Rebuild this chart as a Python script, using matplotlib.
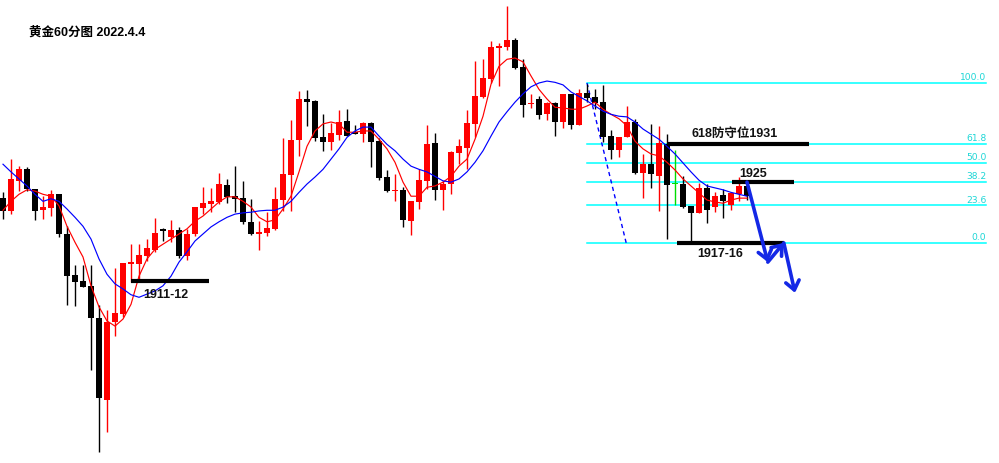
import numpy as np
import matplotlib.pyplot as plt

plt.rcParams['font.family'] = ['Liberation Sans', 'Noto Sans CJK SC', 'DejaVu Sans']

# hourly gold candles (price)
opens = [1922.5, 1920.5, 1925.2, 1927.0, 1923.9, 1920.6, 1920.9, 1923.1, 1916.9, 1910.5,
         1909.5, 1908.8, 1903.8, 1890.9, 1903.1, 1904.4, 1912.2, 1912.2, 1913.4, 1914.4,
         1917.6, 1916.4, 1917.5, 1913.4, 1916.9, 1920.9, 1921.6, 1921.9, 1924.5, 1922.8,
         1922.5, 1918.8, 1916.9, 1917.0, 1917.7, 1922.2, 1926.1, 1931.6, 1938.0, 1937.7,
         1932.0, 1931.3, 1932.4, 1934.5, 1932.8, 1932.5, 1934.2, 1931.4, 1925.8, 1923.6,
         1923.8, 1918.9, 1921.9, 1925.2, 1931.1, 1923.8, 1924.7, 1929.5, 1930.3, 1934.1,
         1938.3, 1941.1, 1945.9, 1946.1, 1947.2, 1943.0, 1937.2, 1938.0, 1935.6, 1937.4,
         1934.4, 1938.8, 1933.9, 1938.9, 1938.3, 1937.5, 1932.2, 1930.0, 1932.0, 1934.4,
         1926.4, 1927.8, 1925.9, 1930.9, 1924.7, 1924.7, 1921.3, 1920.2, 1924.1, 1921.1,
         1923.0, 1921.4, 1923.1, 1924.4]
highs = [1923.4, 1928.6, 1927.5, 1927.4, 1923.9, 1922.8, 1923.8, 1923.1, 1918.1, 1912.0,
         1912.0, 1912.0, 1905.8, 1905.0, 1911.6, 1912.4, 1915.3, 1915.3, 1916.1, 1919.4,
         1917.8, 1919.1, 1918.0, 1917.7, 1921.1, 1924.2, 1924.1, 1926.4, 1925.5, 1927.5,
         1925.2, 1922.4, 1918.9, 1920.3, 1924.2, 1931.9, 1934.7, 1939.2, 1939.4, 1937.8,
         1935.6, 1934.2, 1936.3, 1936.4, 1933.9, 1934.4, 1934.4, 1931.9, 1926.9, 1926.3,
         1924.2, 1922.0, 1927.0, 1933.9, 1932.7, 1925.2, 1929.9, 1931.7, 1936.3, 1943.9,
         1944.2, 1947.0, 1946.7, 1952.5, 1947.5, 1944.2, 1938.8, 1938.4, 1937.5, 1937.5,
         1938.8, 1938.8, 1939.5, 1940.3, 1939.5, 1940.2, 1933.1, 1932.0, 1936.9, 1934.9,
         1929.4, 1934.1, 1933.8, 1932.5, 1930.0, 1925.9, 1921.3, 1924.9, 1924.7, 1923.4,
         1923.9, 1923.4, 1925.8, 1924.9]
lows = [1919.2, 1920.0, 1923.6, 1923.6, 1919.1, 1919.2, 1919.7, 1916.4, 1905.8, 1905.6,
        1908.6, 1895.6, 1882.8, 1885.9, 1900.9, 1903.9, 1909.4, 1909.4, 1912.7, 1914.1,
        1915.8, 1915.6, 1913.1, 1912.8, 1916.6, 1920.0, 1920.3, 1921.6, 1921.7, 1920.3,
        1918.4, 1916.7, 1914.4, 1916.6, 1917.5, 1920.5, 1920.5, 1929.1, 1933.8, 1931.4,
        1929.9, 1930.0, 1931.6, 1932.2, 1932.5, 1931.3, 1927.4, 1925.3, 1923.4, 1922.0,
        1918.0, 1916.7, 1920.8, 1923.9, 1922.2, 1920.6, 1923.1, 1927.8, 1927.0, 1932.0,
        1938.1, 1940.5, 1940.0, 1945.6, 1942.7, 1935.2, 1936.6, 1934.9, 1934.7, 1932.2,
        1933.4, 1933.3, 1933.9, 1937.5, 1936.4, 1931.3, 1928.6, 1928.9, 1932.0, 1926.3,
        1922.5, 1924.1, 1920.5, 1916.1, 1921.4, 1920.9, 1915.6, 1920.2, 1918.6, 1920.3,
        1919.4, 1920.6, 1922.0, 1922.2]
closes = [1920.5, 1925.5, 1927.0, 1923.9, 1920.5, 1921.1, 1923.1, 1916.9, 1910.3, 1909.4,
          1908.6, 1903.8, 1891.3, 1903.1, 1904.5, 1912.4, 1912.5, 1913.6, 1914.7, 1917.0,
          1917.4, 1917.5, 1913.4, 1916.9, 1921.1, 1921.7, 1922.0, 1924.7, 1922.7, 1922.4,
          1918.8, 1916.9, 1917.2, 1917.8, 1922.4, 1926.3, 1931.6, 1938.0, 1937.5, 1931.9,
          1931.3, 1932.7, 1934.4, 1932.2, 1932.5, 1934.2, 1931.3, 1925.6, 1923.6, 1923.8,
          1919.1, 1922.0, 1925.3, 1930.9, 1923.8, 1924.7, 1929.7, 1930.6, 1934.2, 1938.4,
          1941.3, 1946.1, 1946.3, 1947.2, 1942.8, 1937.0, 1937.4, 1935.5, 1937.4, 1934.4,
          1938.8, 1933.9, 1938.9, 1938.1, 1937.4, 1932.0, 1930.0, 1932.0, 1934.4, 1926.4,
          1927.8, 1926.3, 1931.1, 1924.5, 1924.7, 1921.1, 1920.2, 1924.1, 1920.6, 1922.8,
          1922.0, 1923.3, 1924.4, 1922.8]

# moving averages as drawn on the chart
ma_fast = [1920.6, 1922.0, 1923.1, 1923.8, 1923.6, 1923.1, 1922.8, 1921.3, 1918.1, 1915.6,
           1913.3, 1908.8, 1905.5, 1903.3, 1902.5, 1903.6, 1905.9, 1910.3, 1913.0, 1914.5,
           1915.3, 1916.1, 1916.9, 1917.7, 1918.9, 1919.7, 1920.8, 1921.9, 1922.7, 1922.7,
           1922.0, 1921.1, 1919.5, 1918.8, 1919.1, 1920.8, 1922.8, 1926.6, 1930.6, 1933.0,
           1934.1, 1934.4, 1934.1, 1932.8, 1932.8, 1933.0, 1933.0, 1931.7, 1930.2, 1928.1,
           1925.0, 1922.8, 1922.8, 1924.2, 1924.4, 1925.0, 1925.9, 1927.5, 1928.6, 1931.7,
           1935.3, 1940.3, 1943.1, 1944.2, 1944.4, 1943.8, 1941.6, 1939.5, 1938.0, 1936.7,
           1936.6, 1936.4, 1936.4, 1936.9, 1937.5, 1936.4, 1935.6, 1934.9, 1933.8, 1931.4,
           1930.2, 1929.4, 1929.1, 1928.1, 1926.9, 1925.5, 1924.4, 1923.3, 1922.2, 1921.9,
           1921.7, 1922.2, 1922.5, 1922.5]
ma_slow = [1927.8, 1926.6, 1925.5, 1924.4, 1923.1, 1922.0, 1922.4, 1922.0, 1920.8, 1919.5,
           1918.1, 1916.1, 1913.0, 1910.6, 1909.1, 1908.3, 1907.4, 1907.0, 1907.5, 1908.0,
           1908.8, 1910.3, 1912.5, 1914.1, 1915.8, 1916.9, 1918.0, 1918.8, 1919.5, 1920.0,
           1920.2, 1920.3, 1920.5, 1920.6, 1920.6, 1921.1, 1922.0, 1923.4, 1924.7, 1925.8,
           1927.0, 1928.6, 1930.2, 1932.0, 1933.0, 1933.6, 1933.6, 1932.2, 1930.9, 1929.9,
           1928.6, 1927.5, 1927.0, 1926.6, 1925.9, 1925.2, 1925.0, 1925.5, 1926.6, 1928.1,
           1929.9, 1932.2, 1934.4, 1936.0, 1937.5, 1938.8, 1939.9, 1940.5, 1940.8, 1940.6,
           1940.2, 1939.1, 1938.4, 1937.7, 1936.9, 1936.1, 1935.6, 1935.3, 1935.2, 1934.4,
           1933.3, 1932.5, 1931.7, 1930.6, 1929.4, 1928.0, 1926.6, 1925.3, 1924.4, 1924.1,
           1923.8, 1923.4, 1923.1, 1922.8]

fib_labels = ['0.0', '23.6', '38.2', '50.0', '61.8', '100.0']
fib_ratios = [0.0, 0.236, 0.382, 0.5, 0.618, 1.0]
fib_low, fib_high = 1915.5, 1940.5

title = '黄金60分图 2022.4.4'

fig = plt.figure(figsize=(9.99, 4.64), dpi=100)
ax = fig.add_axes([0, 0, 1, 1])
ax.set_xlim(-0.375, 124.5)
ax.set_ylim(1881.1, 1953.625)
ax.axis('off')

x = np.arange(len(opens))
o = np.array(opens); c = np.array(closes)
cols = np.where(c > o, '#ff0000', np.where(c < o, '#000000', '#00dd00'))
ax.vlines(x, lows, highs, colors=cols, lw=1.0, zorder=3)
body = np.maximum(np.abs(c - o), 0.2)
ax.bar(x, body, bottom=np.minimum(o, c), width=0.64, color=cols, zorder=3, linewidth=0)

ax.plot(x, ma_fast, color='#ff0000', lw=0.85, zorder=4)
ax.plot(x, ma_slow, color='#0000ff', lw=0.85, zorder=4)

# fibonacci retracement
fib_x0, fib_x1 = 73, 122.9
fib_prices = [fib_low + r * (fib_high - fib_low) for r in fib_ratios]
for lab, p in zip(fib_labels, fib_prices):
    ax.plot([fib_x0, fib_x1], [p, p], color='#00ffff', lw=1.1, zorder=2)
    ax.text(fib_x1, p + 0.25, lab, ha='right', va='bottom', fontsize=6.6,
            color='#1cd6d6', family='DejaVu Sans', zorder=5)
ax.plot([73, 77.9], [fib_high, fib_low], color='#0000ff', lw=1.0,
        dashes=(3, 2.5), zorder=2)

# support / resistance marks
marks = [(16.0, 25.75, 1909.5, '1911-12', 20.4, 1907.5),
         (83.0, 100.75, fib_prices[4], '618防守位1931', 91.5, 1932.7),
         (91.1, 98.9, fib_prices[2], '1925', 93.75, 1926.4),
         (84.25, 97.6, fib_low, '1917-16', 89.6, 1913.9)]
for x0, x1, p, lab, tx, ty in marks:
    ax.plot([x0, x1], [p, p], color='black', lw=3.0, solid_capstyle='butt', zorder=6)
    ax.text(tx, ty, lab, ha='center', va='center', fontsize=9, fontweight='bold',
            color='#111111', zorder=7)

# projected path
arrow_blue = '#1428e6'
path = [(93.0, 1925.0), (95.6, 1912.5), (97.6, 1915.5), (99.0, 1907.7)]
heads = [True, True, True]
for (xa, ya), (xb, yb), h in zip(path[:-1], path[1:], heads):
    ax.annotate('', xy=(xb, yb), xytext=(xa, ya), zorder=8,
                arrowprops=dict(arrowstyle='->,head_length=0.45,head_width=0.35',
                                color=arrow_blue, lw=2.6, mutation_scale=14,
                                shrinkA=0, shrinkB=0))

fig.text(29 / 999, 1 - 32 / 464, title, ha='left', va='center', fontsize=9,
         fontweight='bold', color='black')

fig.savefig('out.png', dpi=100, facecolor='white')
